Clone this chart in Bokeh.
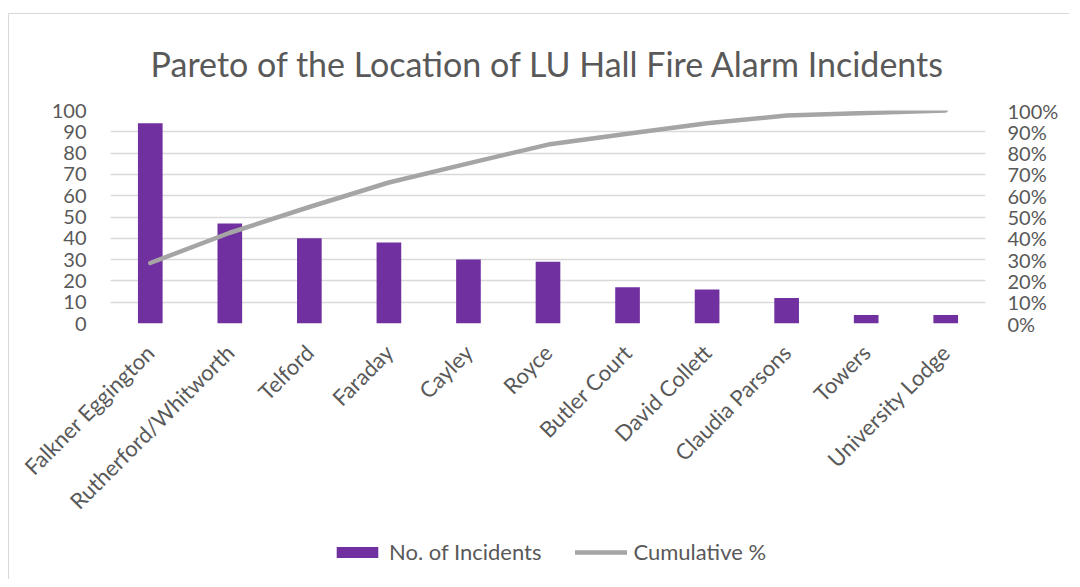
from bokeh.plotting import figure
from bokeh.models import (Range1d, LinearAxis, FactorRange, NumeralTickFormatter,
                          Legend, LegendItem, FixedTicker, ColumnDataSource)
from bokeh.layouts import column
from bokeh.embed import file_html
from bokeh.resources import INLINE
import math

locations = ["Falkner Eggington", "Rutherford/Whitworth", "Telford", "Faraday", "Cayley",
             "Royce", "Butler Court", "David Collett", "Claudia Parsons", "Towers",
             "University Lodge"]
incidents = [94, 47, 40, 38, 30, 29, 17, 16, 12, 4, 4]
cumulative_pct = [0.284, 0.426, 0.547, 0.662, 0.752, 0.840, 0.891, 0.940, 0.976, 0.988, 1.0]

FONT = "Lato"
TXT = "#595959"
GRID = "#d9d9d9"
BAR = "#7030a0"
LINE = "#a5a5a5"

src = ColumnDataSource(dict(loc=locations, n=incidents, cum=cumulative_pct))

p = figure(width=1060, height=519, output_backend="svg", toolbar_location=None,
           x_range=FactorRange(*locations, range_padding=0),
           y_range=Range1d(0, 100),
           min_border_left=101, min_border_right=84, min_border_top=84,
           min_border_bottom=210)
p.outline_line_color = None
p.background_fill_color = "white"
p.border_fill_color = "white"

p.title.text = "Pareto of the Location of LU Hall Fire Alarm Incidents"
p.title.text_font = FONT
p.title.text_font_size = "34px"
p.title.text_font_style = "normal"
p.title.text_color = TXT
p.title.align = "center"
p.title.standoff = 53

p.extra_y_ranges = {"pct": Range1d(0, 1)}

bars = p.vbar(x="loc", top="n", width=0.31, source=src, fill_color=BAR,
              line_color=None)
line = p.line(x="loc", y="cum", source=src, y_range_name="pct", line_color=LINE,
              line_width=4.5, line_cap="round", line_join="round")

ya = p.yaxis[0]
ya.ticker = FixedTicker(ticks=list(range(0, 101, 10)))
ya.axis_line_color = None
ya.major_tick_line_color = None
ya.minor_tick_line_color = None
ya.major_label_text_font = FONT
ya.major_label_text_font_size = "20px"
ya.major_label_text_color = TXT
ya.major_label_standoff = 18

ra = LinearAxis(y_range_name="pct", ticker=FixedTicker(ticks=[i / 10 for i in range(11)]),
                formatter=NumeralTickFormatter(format="0%"))
ra.axis_line_color = None
ra.major_tick_line_color = None
ra.minor_tick_line_color = None
ra.major_label_text_font = FONT
ra.major_label_text_font_size = "20px"
ra.major_label_text_color = TXT
ra.major_label_standoff = 16
p.add_layout(ra, "right")

xa = p.xaxis[0]
xa.axis_line_color = None
xa.major_tick_line_color = None
xa.minor_tick_line_color = None
xa.major_label_orientation = math.pi / 4
xa.major_label_text_font = FONT
xa.major_label_text_font_size = "22px"
xa.major_label_text_color = TXT
xa.major_label_standoff = 19

p.xgrid.grid_line_color = None
p.ygrid.grid_line_color = GRID
p.ygrid.grid_line_width = 1.5

# legend strip below the chart (same data, drawn outside its visible range)
lg = figure(width=1060, height=46, output_backend="svg", toolbar_location=None,
            x_range=FactorRange(*locations), y_range=Range1d(1000, 1001),
            x_axis_type=None, y_axis_type=None, min_border=0)
lg.extra_y_ranges = {"pct": Range1d(1000, 1001)}
lg.outline_line_color = None
lg.xgrid.grid_line_color = None
lg.ygrid.grid_line_color = None
lg_bar = lg.vbar(x="loc", top="n", width=0.31, source=src, fill_color=BAR, line_color=None)
lg_line = lg.line(x="loc", y="cum", source=src, y_range_name="pct", line_color=LINE,
                  line_width=4.5, line_cap="round")

legend = Legend(items=[LegendItem(label="No. of Incidents", renderers=[lg_bar]),
                       LegendItem(label="Cumulative %", renderers=[lg_line])],
                orientation="horizontal", location=(221, 14),
                border_line_alpha=0, background_fill_alpha=0, padding=0, margin=0,
                spacing=34, label_standoff=6, glyph_width=52, glyph_height=14,
                label_text_font=FONT, label_text_font_size="22px",
                label_text_color=TXT)
lg.add_layout(legend)

layout = column(p, lg, spacing=0)
layout.styles = {"margin-left": "8px", "margin-top": "13px",
                 "border-left": "1px solid #d9d9d9", "border-top": "1px solid #d9d9d9"}
open("out.html", "w").write(file_html(layout, INLINE))
